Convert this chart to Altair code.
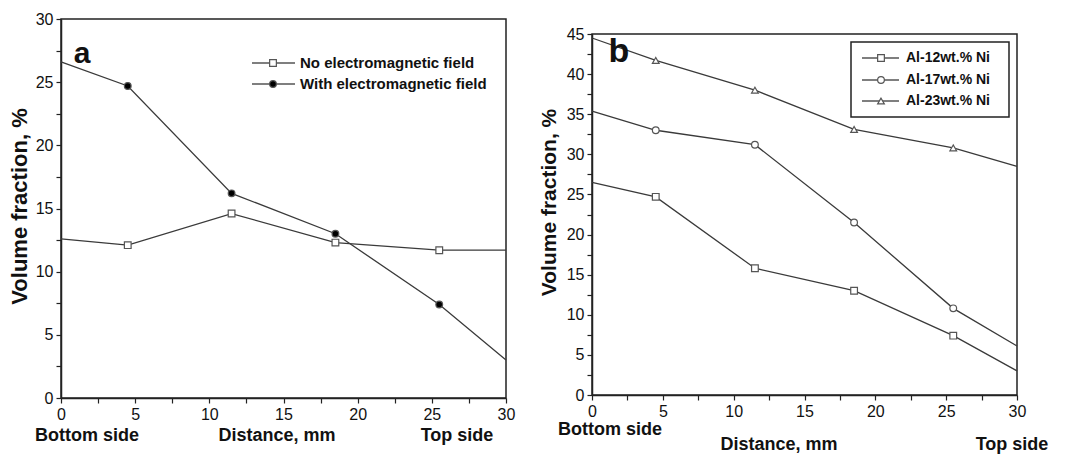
import altair as alt
import pandas as pd

# ---------------- data ----------------
distance = [0, 4.5, 11.5, 18.5, 25.5, 30]
has_marker = [False, True, True, True, True, False]

a_series = ["No electromagnetic field", "With electromagnetic field"]
a_no_field = [12.6, 12.1, 14.6, 12.3, 11.7, 11.7]
a_with_field = [26.6, 24.7, 16.2, 13.0, 7.4, 3.0]

b_series = ["Al-12wt.% Ni", "Al-17wt.% Ni", "Al-23wt.% Ni"]
b_al12 = [26.5, 24.7, 15.8, 13.0, 7.4, 3.0]
b_al17 = [35.4, 33.0, 31.2, 21.5, 10.8, 6.1]
b_al23 = [44.5, 41.7, 38.0, 33.1, 30.8, 28.5]

x_ticks = [0, 2.5, 5, 7.5, 10, 12.5, 15, 17.5, 20, 22.5, 25, 27.5, 30]
a_y_ticks = [0, 2.5, 5, 7.5, 10, 12.5, 15, 17.5, 20, 22.5, 25, 27.5, 30]
b_y_ticks = [0, 2.5, 5, 7.5, 10, 12.5, 15, 17.5, 20, 22.5, 25, 27.5, 30,
             32.5, 35, 37.5, 40, 42.5, 45]

FONT = "Liberation Sans, Arial, Helvetica, sans-serif"
LINE = "#3a3a3a"
MARK = "#555555"


def long_df(names, values):
    rows = []
    for n, vals in zip(names, values):
        for d, v, m in zip(distance, vals, has_marker):
            rows.append({"series": n, "dist": d, "value": v, "marker": m})
    return pd.DataFrame(rows)


def panel(names, values, styles, ymax, yticks, w, h, title_x, title_y, title_size,
          letter, letter_pos, letter_size, side_labels, legend, top_pad):
    df = long_df(names, values)
    lab = "datum.value % 5 === 0 ? datum.label : ''"
    x = alt.X("dist:Q", scale=alt.Scale(domain=[0, 30], nice=False, zero=False),
              axis=alt.Axis(values=x_ticks, labelExpr=lab, title=None, grid=False,
                            labelFlush=False, labelOverlap=False, labelPadding=3,
                            tickSize=5))
    y = alt.Y("value:Q", scale=alt.Scale(domain=[0, ymax], nice=False),
              axis=alt.Axis(values=yticks, labelExpr=lab, title="Volume fraction, %",
                            titleX=title_x, titleY=title_y, titleAngle=270,
                            titleBaseline="middle", titleAlign="center",
                            titleFontSize=title_size, titleFontWeight="bold",
                            grid=False, labelFlush=False, labelOverlap=False,
                            labelPadding=3, tickSize=5))
    layers = [alt.Chart(df).mark_line(color=LINE, strokeWidth=1.3).encode(
        x=x, y=y, detail="series:N")]
    for n, (shape, fill) in zip(names, styles):
        sub = df[(df.series == n) & (df.marker)]
        layers.append(alt.Chart(sub).mark_point(
            shape=shape, filled=True, fill=fill, stroke=MARK, strokeWidth=1.2,
            size=45, opacity=1).encode(x=x, y=y))

    if top_pad is not None:
        # invisible spacer to fix the top bound
        layers.append(alt.Chart(pd.DataFrame({"t": ["."]})).mark_text(
            opacity=0, baseline="top", fontSize=10).encode(
            x=alt.value(0), y=alt.value(-top_pad), text="t:N"))

    # panel letter
    layers.append(alt.Chart(pd.DataFrame({"t": [letter]})).mark_text(
        font=FONT, fontWeight="bold", fontSize=letter_size, align="center",
        baseline="middle", color="#111").encode(
        x=alt.value(letter_pos[0]), y=alt.value(letter_pos[1]), text="t:N"))

    # labels below axis
    for txt, px, py in side_labels:
        layers.append(alt.Chart(pd.DataFrame({"t": [txt]})).mark_text(
            font=FONT, fontWeight="bold", fontSize=18, align="center",
            baseline="middle", color="#111").encode(
            x=alt.value(px), y=alt.value(py), text="t:N"))

    # legend
    lx0, lx1, sx, tx, rows, fsize, box = legend
    if box is not None:
        layers.append(alt.Chart(pd.DataFrame({"t": ["box"]})).mark_rect(
            fill="white", stroke="#222", strokeWidth=1.5).encode(
            x=alt.value(box[0]), x2=alt.value(box[1]),
            y=alt.value(box[2]), y2=alt.value(box[3])))
    for n, (shape, fill), ry in zip(names, styles, rows):
        d = pd.DataFrame({"t": [n]})
        layers.append(alt.Chart(d).mark_rule(color=MARK, strokeWidth=1.3).encode(
            x=alt.value(lx0), x2=alt.value(lx1), y=alt.value(ry)))
        layers.append(alt.Chart(d).mark_point(
            shape=shape, filled=True, fill=fill, stroke=MARK, strokeWidth=1.2,
            size=45, opacity=1).encode(x=alt.value(sx), y=alt.value(ry)))
        layers.append(alt.Chart(d).mark_text(
            font=FONT, fontWeight="bold", fontSize=fsize, align="left",
            baseline="middle", color="#111").encode(
            x=alt.value(tx), y=alt.value(ry), text="t:N"))

    return alt.layer(*layers).properties(width=w, height=h)


chart_a = panel(
    a_series, [a_no_field, a_with_field],
    [("square", "white"), ("circle", "black")],
    30, a_y_ticks, 445, 379, -42, 187, 22,
    "a", (21, 35), 30,
    [("Bottom side", 26, 417), ("Distance, mm", 216, 417), ("Top side", 396, 417)],
    (191, 234, 212, 239, [44, 65], 15, None),
    15,
)

chart_b = panel(
    b_series, [b_al12, b_al17, b_al23],
    [("square", "white"), ("circle", "white"), ("triangle-up", "white")],
    45, b_y_ticks, 425, 361, -43, 168, 21,
    "b", (27, 18), 34,
    [("Bottom side", 18, 396), ("Distance, mm", 187, 411), ("Top side", 420, 411)],
    (270, 307, 289, 314, [24, 46, 67], 14, (259, 417, 8, 83)),
    None,
)

spacer = alt.Chart(pd.DataFrame({"t": [""]})).mark_text(opacity=0).encode(
    text="t:N", x=alt.value(0), y=alt.value(0)
).properties(width=1, height=3, view=alt.ViewBackground(stroke="transparent"))

chart = alt.hconcat(
    chart_a, alt.vconcat(spacer, chart_b, spacing=0), spacing=21
).properties(
    padding={"left": 7, "top": 3, "right": 0, "bottom": 0},
    background="white",
).configure_view(
    stroke="#222", strokeWidth=1.5
).configure_axis(
    domainColor="#222", domainWidth=1.5, tickColor="#222", tickWidth=1.2,
    labelFont=FONT, labelFontSize=16, labelColor="#111",
    titleFont=FONT, titleColor="#111",
)

chart.save("out.html", embed_options={"renderer": "svg", "actions": False})
